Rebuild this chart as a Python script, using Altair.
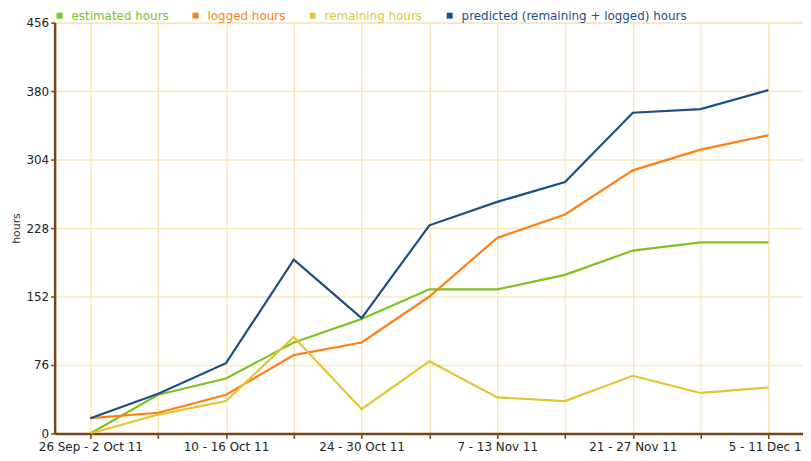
import json
import altair as alt
import pandas as pd

weeks = ["26 Sep - 2 Oct 11", "3 - 9 Oct 11", "10 - 16 Oct 11", "17 - 23 Oct 11",
         "24 - 30 Oct 11", "31 Oct - 6 Nov 11", "7 - 13 Nov 11", "14 - 20 Nov 11",
         "21 - 27 Nov 11", "28 Nov - 4 Dec 11", "5 - 11 Dec 11"]

series_names = ["estimated hours", "logged hours", "remaining hours",
                "predicted (remaining + logged) hours"]
series_colors = ["#7dc21e", "#ff7f12", "#e3c431", "#1b4f85"]

estimated = [0, 43, 61, 101, 127, 160, 160, 176, 203, 212, 212]
logged = [17, 23, 43, 87, 101, 152, 217, 243, 292, 315, 331]
remaining = [0, 21, 36, 107, 27, 80, 40, 36, 64, 45, 51]
predicted = [17, 44, 78, 193, 128, 231, 257, 279, 356, 360, 381]

y_ticks = [0, 76, 152, 228, 304, 380, 456]

rows = []
for name, vals in zip(series_names, [estimated, logged, remaining, predicted]):
    for i, v in enumerate(vals):
        rows.append({"week": i, "series": name, "hours": v, "order": series_names.index(name)})
df = pd.DataFrame(rows)

label_expr = "datum.value % 2 == 0 ? " + json.dumps(weeks) + "[datum.value] : ''"
color_expr = json.dumps(series_colors) + "[indexof(" + json.dumps(series_names) + ", datum.value)]"

FONT = "DejaVu Sans"
BROWN = "#7b4416"
GRID = "#f8e6bd"

chart = alt.Chart(df).mark_line(strokeWidth=2.2, clip=True).encode(
    x=alt.X("week:Q",
            scale=alt.Scale(domain=[-0.527, 10.51], nice=False, zero=False),
            axis=alt.Axis(values=list(range(len(weeks))), labelExpr=label_expr, title=None,
                          grid=True, gridColor=GRID, gridWidth=1.5,
                          domainColor=BROWN, domainWidth=2.5, tickColor=BROWN, tickSize=5,
                          tickWidth=1.5, labelFont=FONT, labelFontSize=12, labelColor="#222",
                          labelPadding=3, labelOverlap=False, labelBound=False, labelFlush=False)),
    y=alt.Y("hours:Q",
            scale=alt.Scale(domain=[0, 456], nice=False),
            axis=alt.Axis(values=y_ticks, title="hours", titleFont=FONT, titleFontSize=11,
                          titleFontWeight="normal", titleColor="#333", titlePadding=5,
                          grid=True, gridColor=GRID, gridWidth=1.5,
                          domainColor=BROWN, domainWidth=2.5, tickColor=BROWN, tickSize=4,
                          tickWidth=1.5, labelFont=FONT, labelFontSize=12, labelColor="#222",
                          labelPadding=2)),
    color=alt.Color("series:N",
                    scale=alt.Scale(domain=series_names, range=series_colors),
                    legend=alt.Legend(
                        orient="none", legendX=-1, legendY=-13, direction="horizontal",
                        title=None, symbolType="square", symbolSize=36,
                        symbolFillColor=alt.ExprRef(color_expr),
                        symbolStrokeWidth=0,
                        labelColor=alt.ExprRef(color_expr),
                        labelFont=FONT, labelFontSize=12, labelOffset=6, labelLimit=0,
                        columnPadding=21, padding=0)),
    order=alt.Order("order:Q"),
    detail="series:N",
).properties(
    width=754, height=414,
    autosize=alt.AutoSizeParams(type="none"),
    padding={"left": 47, "top": 13, "right": 0, "bottom": 22},
).configure_view(stroke=None).configure(background="white")

chart.save("out.html", embed_options={"renderer": "svg", "actions": False})
